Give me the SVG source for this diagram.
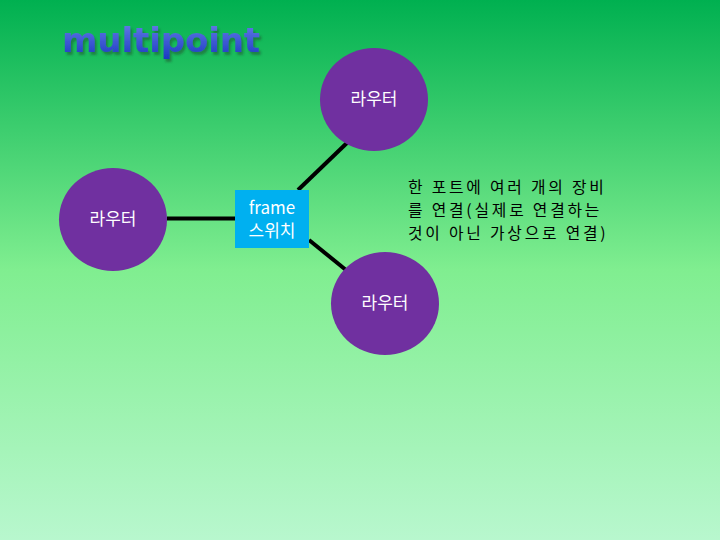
<svg xmlns="http://www.w3.org/2000/svg" width="720" height="540" viewBox="0 0 720 540">
<defs>
<linearGradient id="bg" x1="0" y1="0" x2="0" y2="1">
<stop offset="0" stop-color="#00b050"/>
<stop offset="0.5" stop-color="#80ee90"/>
<stop offset="1" stop-color="#b8f7ce"/>
</linearGradient>
<linearGradient id="tg" x1="0" y1="0" x2="0" y2="1">
<stop offset="0" stop-color="#6a80ea"/>
<stop offset="1" stop-color="#1838c0"/>
</linearGradient>
<filter id="sh" x="-10%" y="-30%" width="120%" height="160%">
<feDropShadow dx="2" dy="3" stdDeviation="1.2" flood-color="#1a4a2a" flood-opacity="0.5"/>
</filter>
<style>
.router{fill:#7030a0}
.lbl{fill:#ffffff;font-family:"Noto Sans CJK KR","Noto Sans",sans-serif;font-size:17px;text-anchor:middle}
.conn{stroke:#000000;stroke-width:4;fill:none}
.note{fill:#000000;font-family:"Noto Sans CJK KR","Noto Sans",sans-serif;font-size:15.8px;letter-spacing:2.8px}
</style>
</defs>
<rect x="0" y="0" width="720" height="540" fill="url(#bg)"/>
<g id="title">
<text x="62" y="52" fill="url(#tg)" filter="url(#sh)" font-family="'DejaVu Sans',sans-serif" font-weight="bold" font-size="34" letter-spacing="-0.1">multipoint</text>
</g>
<g id="connectors">
<line class="conn" x1="167" y1="218.5" x2="235" y2="218.5"/>
<line class="conn" x1="298" y1="190" x2="350" y2="140"/>
<line class="conn" x1="309" y1="240" x2="346" y2="270"/>
</g>
<g id="router-top">
<ellipse class="router" cx="374" cy="99.5" rx="54" ry="51.5"/>
<text class="lbl" x="374" y="105">라우터</text>
</g>
<g id="router-left">
<ellipse class="router" cx="113" cy="219.5" rx="54" ry="51.5"/>
<text class="lbl" x="113" y="225">라우터</text>
</g>
<g id="router-bottom">
<ellipse class="router" cx="385" cy="303.5" rx="54" ry="51.5"/>
<text class="lbl" x="385" y="309">라우터</text>
</g>
<g id="switch">
<rect x="235" y="190" width="74" height="58" fill="#00b0f0"/>
<text class="lbl" x="272" y="214" font-size="16">frame</text>
<text class="lbl" x="272" y="237">스위치</text>
</g>
<g id="note">
<text class="note" x="408" y="193">한 포트에 여러 개의 장비</text>
<text class="note" x="408" y="216">를 연결(실제로 연결하는</text>
<text class="note" x="408" y="239">것이 아닌 가상으로 연결)</text>
</g>
</svg>
